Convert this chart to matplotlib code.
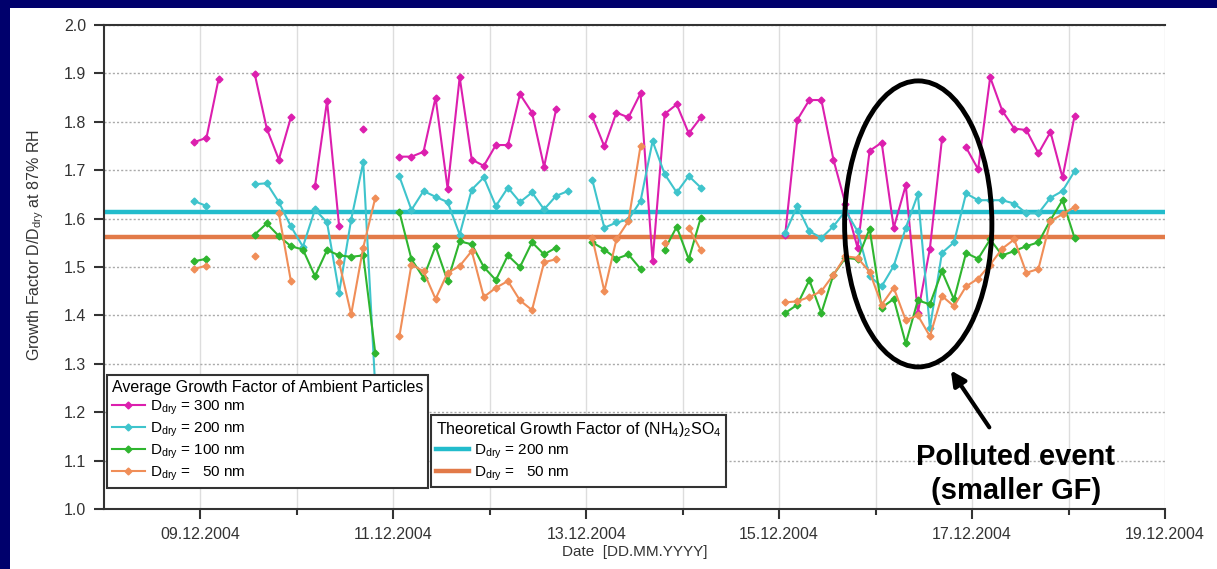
import numpy as np
import pandas as pd
import matplotlib
matplotlib.use("Agg")
import matplotlib.pyplot as plt
import matplotlib.dates as mdates
from matplotlib.patches import Ellipse, Rectangle

plt.rcParams["font.family"] = ["Liberation Sans", "DejaVu Sans"]
plt.rcParams["mathtext.fontset"] = "custom"
plt.rcParams["mathtext.rm"] = "Liberation Sans"
plt.rcParams["mathtext.it"] = "Liberation Sans:italic"

nan = np.nan

# 3-hourly sampling times
times = [
    "08.12.2004 22:30",
    "09.12.2004 01:30", "09.12.2004 04:30", "09.12.2004 07:30", "09.12.2004 10:30",
    "09.12.2004 13:30", "09.12.2004 16:30", "09.12.2004 19:30", "09.12.2004 22:30",
    "10.12.2004 01:30", "10.12.2004 04:30", "10.12.2004 07:30", "10.12.2004 10:30",
    "10.12.2004 13:30", "10.12.2004 16:30", "10.12.2004 19:30", "10.12.2004 22:30",
    "11.12.2004 01:30", "11.12.2004 04:30", "11.12.2004 07:30", "11.12.2004 10:30",
    "11.12.2004 13:30", "11.12.2004 16:30", "11.12.2004 19:30", "11.12.2004 22:30",
    "12.12.2004 01:30", "12.12.2004 04:30", "12.12.2004 07:30", "12.12.2004 10:30",
    "12.12.2004 13:30", "12.12.2004 16:30", "12.12.2004 19:30", "12.12.2004 22:30",
    "13.12.2004 01:30", "13.12.2004 04:30", "13.12.2004 07:30", "13.12.2004 10:30",
    "13.12.2004 13:30", "13.12.2004 16:30", "13.12.2004 19:30", "13.12.2004 22:30",
    "14.12.2004 01:30", "14.12.2004 04:30", "14.12.2004 07:30", "14.12.2004 10:30",
    "14.12.2004 13:30", "14.12.2004 16:30", "14.12.2004 19:30", "14.12.2004 22:30",
    "15.12.2004 01:30", "15.12.2004 04:30", "15.12.2004 07:30", "15.12.2004 10:30",
    "15.12.2004 13:30", "15.12.2004 16:30", "15.12.2004 19:30", "15.12.2004 22:30",
    "16.12.2004 01:30", "16.12.2004 04:30", "16.12.2004 07:30", "16.12.2004 10:30",
    "16.12.2004 13:30", "16.12.2004 16:30", "16.12.2004 19:30", "16.12.2004 22:30",
    "17.12.2004 01:30", "17.12.2004 04:30", "17.12.2004 07:30", "17.12.2004 10:30",
    "17.12.2004 13:30", "17.12.2004 16:30", "17.12.2004 19:30", "17.12.2004 22:30",
    "18.12.2004 01:30",
]

gf_300 = [
    1.758,
    1.767, 1.888, nan, nan, 1.899, 1.786, 1.722, 1.809,
    nan, 1.667, 1.843, 1.584, nan, 1.786, nan, nan,
    1.728, 1.728, 1.738, 1.850, 1.662, 1.892, 1.722, 1.709,
    1.752, 1.752, 1.857, 1.819, 1.707, 1.826, nan, nan,
    1.811, 1.749, 1.819, 1.809, 1.859, 1.512, 1.816, 1.836,
    1.776, 1.809, nan, nan, nan, nan, nan, nan,
    1.567, 1.804, 1.845, 1.845, 1.722, 1.630, 1.540, 1.740,
    1.757, 1.581, 1.669, 1.405, 1.538, 1.764, nan, 1.747,
    1.702, 1.892, 1.823, 1.786, 1.783, 1.735, 1.779, 1.685,
    1.812,
]

gf_200 = [
    1.636,
    1.626, nan, nan, nan, 1.671, 1.673, 1.634, 1.584,
    1.542, 1.619, 1.592, 1.447, 1.598, 1.716, 1.250, nan,
    1.687, 1.618, 1.657, 1.645, 1.634, 1.567, 1.660, 1.685,
    1.626, 1.664, 1.634, 1.654, 1.619, 1.647, 1.657, nan,
    1.680, 1.581, 1.592, 1.598, 1.636, 1.760, 1.692, 1.654,
    1.688, 1.664, nan, nan, nan, nan, nan, nan,
    1.570, 1.626, 1.574, 1.560, 1.584, 1.616, 1.574, 1.481,
    1.460, 1.502, 1.581, 1.650, 1.374, 1.529, 1.551, 1.652,
    1.638, 1.638, 1.638, 1.631, 1.611, 1.611, 1.643, 1.657,
    1.698,
]

gf_100 = [
    1.512,
    1.517, nan, nan, nan, 1.567, 1.590, 1.564, 1.543,
    1.536, 1.481, 1.535, 1.524, 1.521, 1.524, 1.322, nan,
    1.614, 1.516, 1.478, 1.543, 1.471, 1.553, 1.547, 1.500,
    1.473, 1.524, 1.500, 1.551, 1.526, 1.540, nan, nan,
    1.551, 1.536, 1.517, 1.526, 1.496, nan, 1.536, 1.583,
    1.516, 1.602, nan, nan, nan, nan, nan, nan,
    1.405, 1.422, 1.473, 1.405, 1.484, 1.519, 1.516, 1.579,
    1.416, 1.434, 1.342, 1.431, 1.423, 1.491, 1.433, 1.529,
    1.517, 1.557, 1.524, 1.533, 1.543, 1.551, 1.597, 1.638,
    1.560,
]

gf_50 = [
    1.496,
    1.503, nan, nan, nan, 1.522, nan, 1.611, 1.471,
    nan, nan, nan, 1.510, 1.402, 1.540, 1.643, nan,
    1.357, 1.505, 1.491, 1.434, 1.488, 1.502, 1.533, 1.438,
    1.457, 1.471, 1.431, 1.411, 1.510, 1.516, nan, nan,
    1.560, 1.450, 1.557, 1.595, 1.750, nan, 1.550, nan,
    1.581, 1.535, nan, nan, nan, nan, nan, nan,
    1.427, 1.429, 1.438, 1.450, 1.484, 1.522, 1.519, 1.490,
    1.422, 1.457, 1.390, 1.400, 1.357, 1.440, 1.419, 1.460,
    1.476, 1.505, 1.538, 1.557, 1.488, 1.496, 1.595, 1.609,
    1.624,
]

series_labels = ["D$_{\\rm dry}$ = 300 nm", "D$_{\\rm dry}$ = 200 nm",
                 "D$_{\\rm dry}$ = 100 nm", "D$_{\\rm dry}$ =   50 nm"]
series_colors = ["#dc1fae", "#3fc4cc", "#2fb52f", "#f08e58"]

# theoretical (NH4)2SO4 growth factors
theory_values = [1.613, 1.563]
theory_labels = ["D$_{\\rm dry}$ = 200 nm", "D$_{\\rm dry}$ =   50 nm"]
theory_colors = ["#22bccc", "#e27a48"]

t = pd.to_datetime(times, format="%d.%m.%Y %H:%M")

fig = plt.figure(figsize=(12.17, 5.69), dpi=100, facecolor="#00006c")
fig.patches.append(Rectangle((10 / 1217, 0), 1, 1 - 8 / 569, transform=fig.transFigure,
                             facecolor="white", edgecolor="none", zorder=-10))
ax = fig.add_axes([104 / 1217, 1 - 509 / 569, 1061 / 1217, 484 / 569])
ax.set_facecolor("white")

theory_handles = []
for val, lab, col in zip(theory_values, theory_labels, theory_colors):
    h = ax.axhline(val, color=col, lw=3.2, label=lab, zorder=2)
    theory_handles.append(h)

series_handles = []
for vals, lab, col in zip([gf_300, gf_200, gf_100, gf_50], series_labels, series_colors):
    h, = ax.plot(t, vals, color=col, lw=1.5, marker="D", markersize=3.5,
                 label=lab, zorder=3)
    series_handles.append(h)

ax.set_ylim(1.0, 2.0)
ax.set_xlim(pd.Timestamp("2004-12-08"), pd.Timestamp("2004-12-19"))
ax.set_yticks(np.arange(1.0, 2.01, 0.1))
ax.yaxis.set_major_formatter(matplotlib.ticker.FormatStrFormatter("%.1f"))
ax.xaxis.set_major_locator(mdates.DayLocator(bymonthday=[9, 11, 13, 15, 17, 19]))
ax.xaxis.set_minor_locator(mdates.DayLocator(bymonthday=[10, 12, 14, 16, 18]))
ax.xaxis.set_major_formatter(mdates.DateFormatter("%d.%m.%Y"))

ax.tick_params(axis="both", which="major", direction="out", length=7, width=1.5,
               color="#333333", labelsize=11.5, labelcolor="#333333", pad=6)
ax.tick_params(axis="x", which="minor", direction="out", length=4, width=1.5, color="#333333")

ax.grid(True, axis="x", which="both", color="#dddddd", lw=1, ls="-", zorder=0)
ax.grid(True, axis="y", which="major", color="#aaaaaa", lw=1, ls=(0, (1.5, 1.5)), zorder=0)
ax.set_axisbelow(True)

for side in ["left", "bottom", "top"]:
    ax.spines[side].set_color("#333333")
    ax.spines[side].set_linewidth(1.5)
ax.spines["right"].set_visible(False)

ax.set_ylabel("Growth Factor D/D$_{\\rm dry}$ at 87% RH", fontsize=11.5, color="#333333")
ax.yaxis.set_label_coords(-0.055, 0.545)
ax.set_xlabel("Date  [DD.MM.YYYY]", fontsize=11, color="#333333", labelpad=2)

# polluted event marker
ax.add_patch(Ellipse((mdates.date2num(pd.Timestamp("2004-12-16 10:36")), 1.589),
                     width=1.527, height=0.591, fill=False, edgecolor="black", lw=3.5, zorder=5))
ax.annotate("", xy=(pd.Timestamp("2004-12-16 18:20"), 1.291),
            xytext=(pd.Timestamp("2004-12-17 04:40"), 1.164),
            arrowprops=dict(arrowstyle="-|>", color="black", lw=3, mutation_scale=22), zorder=5)
ax.text(pd.Timestamp("2004-12-17 10:54"), 1.072, "Polluted event\n(smaller GF)",
        ha="center", va="center", fontsize=21, fontweight="bold",
        linespacing=1.3, zorder=6)

leg1 = ax.legend(handles=series_handles, title="Average Growth Factor of Ambient Particles",
                 loc="upper left", bbox_to_anchor=(107 / 1217, 1 - 375 / 569),
                 bbox_transform=fig.transFigure, borderaxespad=0, fontsize=11,
                 title_fontsize=11.5, alignment="left", frameon=True, fancybox=False,
                 framealpha=1, edgecolor="#333333", labelspacing=0.25, handlelength=2.2,
                 handletextpad=0.3, borderpad=0.3)
leg1.get_frame().set_linewidth(1.5)
ax.add_artist(leg1)
leg2 = ax.legend(handles=theory_handles, title="Theoretical Growth Factor of (NH$_4$)$_2$SO$_4$",
                 loc="upper left", bbox_to_anchor=(431 / 1217, 1 - 415 / 569),
                 bbox_transform=fig.transFigure, borderaxespad=0, fontsize=11,
                 title_fontsize=11.5, alignment="left", frameon=True, fancybox=False,
                 framealpha=1, edgecolor="#333333", labelspacing=0.25, handlelength=2.2,
                 handletextpad=0.3, borderpad=0.3)
leg2.get_frame().set_linewidth(1.5)
leg1.set_zorder(7)
leg2.set_zorder(8)

fig.savefig("out.png", dpi=100, facecolor=fig.get_facecolor())
